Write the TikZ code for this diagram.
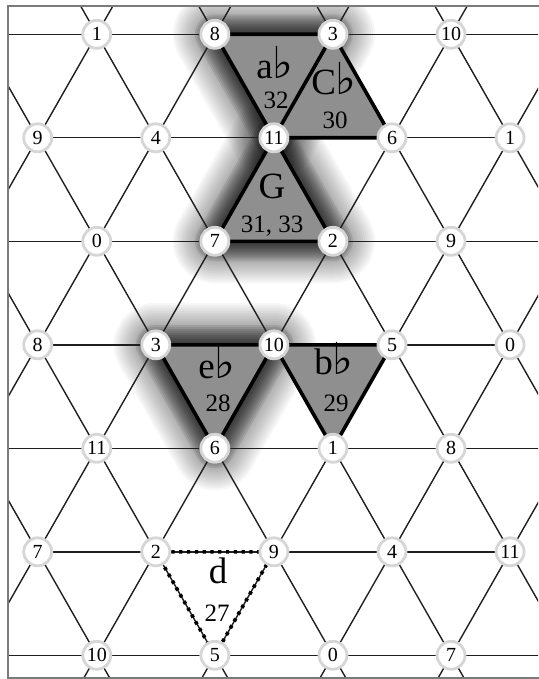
\documentclass[tikz,border=0pt]{standalone}
\usepackage{fontspec}
\setmainfont{Liberation Serif}
\newfontfamily\flatfont{DejaVu Sans}
\newcommand\fl[1]{{\flatfont\fontsize{#1}{#1}\selectfont ♭}}
\begin{document}
\begin{tikzpicture}[x=1pt,y=-1pt,
  pc/.style={circle, fill=white, draw=black!16, line width=2.8pt, minimum size=28pt, inner sep=0pt, font=\fontsize{20}{20}\selectfont},
  gridline/.style={line width=1.4pt, black!88},
  chord/.style={fill=black!44},
  chordedge/.style={line width=3.6pt, black, line join=round},
  dottededge/.style={line width=3.6pt, black, dash pattern=on 3.2pt off 4.6pt},
  glowlayer/.style={line width=#1, black, line join=round},
  chordname/.style={inner sep=0pt, font=\fontsize{37}{37}\selectfont},
  chordnum/.style={inner sep=0pt, font=\fontsize{25}{25}\selectfont},
  framestyle/.style={line width=2.6pt, black!52}
]
\useasboundingbox (0,0) rectangle (538,679);
% lattice coordinates (R = row+1, C = column+1)
\foreach \R in {0,...,8}{\foreach \C in {0,...,10}{
  \coordinate (g\R-\C) at ({37.7+59.05*(\C-1)},{34.3+103.5*(\R-1)});
}}
\begin{scope}
\clip (8,6) rectangle (538,678);
% glows
\foreach \w in {4,8,...,84}{
  \draw[glowlayer=\w pt, draw opacity=0.03] (g1-4) -- (g1-6) -- (g2-5) -- cycle;
  \draw[glowlayer=\w pt, draw opacity=0.03] (g2-5) -- (g3-4) -- (g3-6) -- cycle;
  \draw[glowlayer=\w pt, draw opacity=0.03] (g4-3) -- (g4-5) -- (g5-4) -- cycle;
}
\foreach \w in {4,8,...,40}{
  \draw[glowlayer=\w pt, draw opacity=0.08] (g1-4) -- (g1-6) -- (g2-5) -- cycle;
  \draw[glowlayer=\w pt, draw opacity=0.08] (g2-5) -- (g3-4) -- (g3-6) -- cycle;
  \draw[glowlayer=\w pt, draw opacity=0.08] (g4-3) -- (g4-5) -- (g5-4) -- cycle;
}
% chord fills
\fill[chord] (g1-4) -- (g1-6) -- (g2-5) -- cycle;
\fill[chord] (g1-6) -- (g2-5) -- (g2-7) -- cycle;
\fill[chord] (g2-5) -- (g3-4) -- (g3-6) -- cycle;
\fill[chord] (g4-3) -- (g4-5) -- (g5-4) -- cycle;
\fill[chord] (g4-5) -- (g4-7) -- (g5-6) -- cycle;
% grid lines
\foreach \R in {0,...,8}{\foreach \C in {0,...,10}{
  \pgfmathtruncatemacro\odd{mod(\R+\C,2)}
  \ifnum\odd=1
    \pgfmathtruncatemacro\Cr{\C+2}
    \ifnum\Cr<11 \draw[gridline] (g\R-\C) -- (g\R-\Cr); \fi
    \ifnum\R<8
      \pgfmathtruncatemacro\Rd{\R+1}
      \pgfmathtruncatemacro\Cp{\C+1}
      \pgfmathtruncatemacro\Cm{\C-1}
      \ifnum\Cp<11 \draw[gridline] (g\R-\C) -- (g\Rd-\Cp); \fi
      \ifnum\Cm>-1 \draw[gridline] (g\R-\C) -- (g\Rd-\Cm); \fi
    \fi
  \fi
}}
\end{scope}
% chord edges
\draw[chordedge] (g1-4) -- (g1-6) -- (g2-5) -- cycle;
\draw[chordedge] (g1-6) -- (g2-7) -- (g2-5);
\draw[chordedge] (g2-5) -- (g3-4) -- (g3-6) -- cycle;
\draw[chordedge] (g4-3) -- (g4-5) -- (g5-4) -- cycle;
\draw[chordedge] (g4-5) -- (g4-7) -- (g5-6) -- cycle;
\draw[dottededge] (g6-3) -- (g6-5) -- (g7-4) -- cycle;
% pitch-class nodes
\foreach \R in {1,...,7}{\foreach \C in {1,...,9}{
  \pgfmathtruncatemacro\odd{mod(\R+\C,2)}
  \ifnum\odd=1
    \pgfmathtruncatemacro\v{mod(1+(7*(\C-1)-(\R-1)-7)/2+120,12)}
    \node[pc] (n\R-\C) at (g\R-\C) {\v};
  \fi
}}
% chord labels
\node[chordname] (ab) at (275,63) {a\fl{44}};
\node[chordnum] (ab-n) at (276,100) {32};
\node[chordname] (Cb) at (334,79) {C\fl{44}};
\node[chordnum] (Cb-n) at (335,120) {30};
\node[chordname] (G) at (272,186) {G};
\node[chordnum] (G-n) at (272,226) {31, 33};
\node[chordname] (eb) at (217,363) {e\fl{44}};
\node[chordnum] (eb-n) at (218,403) {28};
\node[chordname] (bb) at (334,359) {b\fl{44}};
\node[chordnum] (bb-n) at (336,403) {29};
\node[chordname] (d) at (218,571) {d};
\node[chordnum] (d-n) at (217,613) {27};
% frame
\draw[framestyle] (545,6) -- (8,6) -- (8,678) -- (545,678);
\end{tikzpicture}
\end{document}
